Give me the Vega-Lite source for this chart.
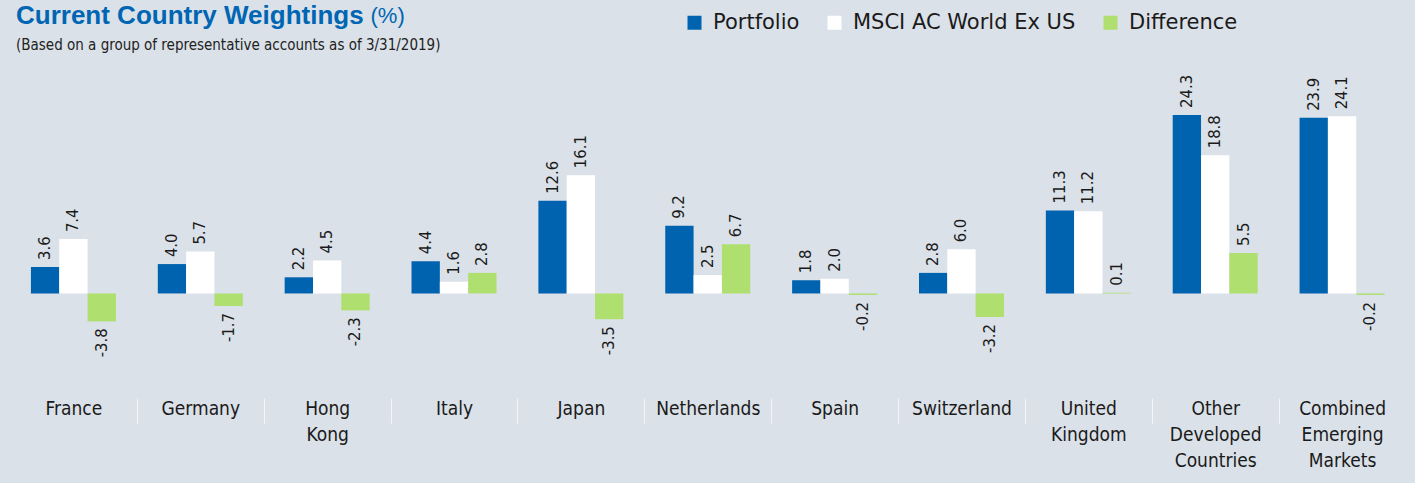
{
  "$schema": "https://vega.github.io/schema/vega-lite/v6.json",
  "autosize": "none",
  "padding": {"left": 10, "top": 73, "right": 10, "bottom": 94},
  "width": 1395.5,
  "height": 316,
  "background": "#dae1e8",
  "config": {
    "view": {"stroke": null},
    "locale": {"number": {"decimal": ".", "thousands": ",", "grouping": [3], "currency": ["$", ""], "minus": "-"}}
  },
  "title": {
    "text": "Current Country Weightings",
    "subtitle": "(Based on a group of representative accounts as of 3/31/2019)",
    "anchor": "start",
    "frame": "group",
    "font": "Liberation Sans",
    "fontSize": 26,
    "fontWeight": "bold",
    "color": "#0066b3",
    "subtitleFont": "DejaVu Sans Condensed",
    "subtitleFontSize": 15,
    "subtitleColor": "#222222",
    "subtitlePadding": 9,
    "offset": -49,
    "dx": 6
  },
  "data": {
    "values": [
      {"country": "France", "series": "Portfolio", "value": 3.6},
      {"country": "France", "series": "MSCI AC World Ex US", "value": 7.4},
      {"country": "France", "series": "Difference", "value": -3.8},
      {"country": "Germany", "series": "Portfolio", "value": 4.0},
      {"country": "Germany", "series": "MSCI AC World Ex US", "value": 5.7},
      {"country": "Germany", "series": "Difference", "value": -1.7},
      {"country": "Hong Kong", "series": "Portfolio", "value": 2.2},
      {"country": "Hong Kong", "series": "MSCI AC World Ex US", "value": 4.5},
      {"country": "Hong Kong", "series": "Difference", "value": -2.3},
      {"country": "Italy", "series": "Portfolio", "value": 4.4},
      {"country": "Italy", "series": "MSCI AC World Ex US", "value": 1.6},
      {"country": "Italy", "series": "Difference", "value": 2.8},
      {"country": "Japan", "series": "Portfolio", "value": 12.6},
      {"country": "Japan", "series": "MSCI AC World Ex US", "value": 16.1},
      {"country": "Japan", "series": "Difference", "value": -3.5},
      {"country": "Netherlands", "series": "Portfolio", "value": 9.2},
      {"country": "Netherlands", "series": "MSCI AC World Ex US", "value": 2.5},
      {"country": "Netherlands", "series": "Difference", "value": 6.7},
      {"country": "Spain", "series": "Portfolio", "value": 1.8},
      {"country": "Spain", "series": "MSCI AC World Ex US", "value": 2.0},
      {"country": "Spain", "series": "Difference", "value": -0.2},
      {"country": "Switzerland", "series": "Portfolio", "value": 2.8},
      {"country": "Switzerland", "series": "MSCI AC World Ex US", "value": 6.0},
      {"country": "Switzerland", "series": "Difference", "value": -3.2},
      {"country": "United Kingdom", "series": "Portfolio", "value": 11.3},
      {"country": "United Kingdom", "series": "MSCI AC World Ex US", "value": 11.2},
      {"country": "United Kingdom", "series": "Difference", "value": 0.1},
      {"country": "Other Developed Countries", "series": "Portfolio", "value": 24.3},
      {"country": "Other Developed Countries", "series": "MSCI AC World Ex US", "value": 18.8},
      {"country": "Other Developed Countries", "series": "Difference", "value": 5.5},
      {"country": "Combined Emerging Markets", "series": "Portfolio", "value": 23.9},
      {"country": "Combined Emerging Markets", "series": "MSCI AC World Ex US", "value": 24.1},
      {"country": "Combined Emerging Markets", "series": "Difference", "value": -0.2}
    ]
  },
  "encoding": {
    "x": {
      "field": "country",
      "type": "nominal",
      "sort": null,
      "scale": {"paddingInner": 0.33, "paddingOuter": 0.165},
      "axis": {
        "title": null,
        "orient": "bottom",
        "offset": 9,
        "domain": false,
        "ticks": true,
        "tickBand": "center",
        "tickOffset": 63.4,
        "labelOffset": -63.4,
        "tickSize": 25,
        "tickColor": "#f3f6f9",
        "tickWidth": 1,
        "tickOpacity": {"condition": {"test": "datum.value === 'Combined Emerging Markets'", "value": 0}, "value": 1},
        "labelAngle": 0,
        "labelPadding": -24,
        "labelBaseline": "top",
        "labelFont": "DejaVu Sans Condensed",
        "labelFontSize": 19,
        "labelColor": "#1a1a1a",
        "labelLineHeight": 26,
        "labelOverlap": false,
        "labelLimit": 0,
        "labelExpr": "split(datum.label, ' ')"
      }
    },
    "xOffset": {
      "field": "series",
      "type": "nominal",
      "scale": {"domain": ["Portfolio", "MSCI AC World Ex US", "Difference"], "paddingInner": 0, "paddingOuter": 0}
    },
    "y": {
      "field": "value",
      "type": "quantitative",
      "scale": {"domain": [-13, 30], "nice": false},
      "axis": {
        "title": "(%)",
        "domain": false,
        "ticks": false,
        "labels": false,
        "grid": false,
        "titleAngle": 0,
        "titleX": 360,
        "titleY": -51,
        "titleAlign": "left",
        "titleBaseline": "alphabetic",
        "titleFont": "Liberation Sans",
        "titleFontSize": 22,
        "titleFontWeight": "normal",
        "titleColor": "#0066b3"
      }
    }
  },
  "layer": [
    {
      "mark": {"type": "bar"},
      "encoding": {
        "color": {
          "field": "series",
          "type": "nominal",
          "scale": {"domain": ["Portfolio", "MSCI AC World Ex US", "Difference"], "range": ["#0063af", "#ffffff", "#aedf6f"]},
          "legend": {
            "orient": "none",
            "legendX": 674,
            "legendY": -61,
            "direction": "horizontal",
            "title": null,
            "symbolType": "square",
            "symbolSize": 196,
            "symbolStrokeWidth": 0,
            "symbolOpacity": 1,
            "labelFont": "DejaVu Sans",
            "labelFontSize": 21,
            "labelColor": "#1a1a1a",
            "labelOffset": 8,
            "labelLimit": 0,
            "columnPadding": 24,
            "padding": 0
          }
        }
      }
    },
    {
      "mark": {"type": "rule", "color": "#3a3a3a", "strokeWidth": 1.5},
      "encoding": {"y": {"datum": 0}, "x": {"value": 0}, "x2": {"width": true}, "xOffset": {"value": 0}}
    },
    {
      "transform": [{"filter": "datum.value >= 0"}],
      "mark": {"type": "text", "angle": 270, "align": "left", "baseline": "middle", "dx": 7, "font": "DejaVu Sans Condensed", "fontSize": 16.5, "color": "#1a1a1a"},
      "encoding": {"text": {"field": "value", "type": "quantitative", "format": ".1f"}}
    },
    {
      "transform": [{"filter": "datum.value < 0"}],
      "mark": {"type": "text", "angle": 270, "align": "right", "baseline": "middle", "dx": -7, "font": "DejaVu Sans Condensed", "fontSize": 16.5, "color": "#1a1a1a"},
      "encoding": {"text": {"field": "value", "type": "quantitative", "format": ".1f"}}
    }
  ]
}
